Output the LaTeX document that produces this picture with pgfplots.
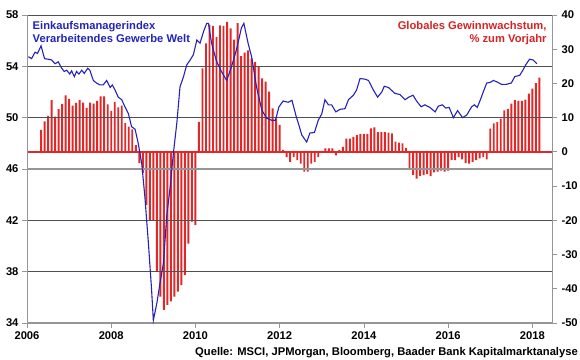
\documentclass[border=0pt]{standalone}
\usepackage{pgfplots}
\pgfplotsset{compat=1.18}
\usepackage{pgfplotstable}
\usepackage{fontspec}
\setmainfont{Liberation Sans}
\definecolor{pmiblue}{RGB}{35,35,185}
\definecolor{barred}{RGB}{225,40,40}
\definecolor{txtred}{RGB}{215,35,35}
\definecolor{gridc}{RGB}{80,80,80}
\definecolor{axc}{RGB}{150,150,150}

\pgfplotstableread{
m v
4 6.4
5 8.9
6 10.5
7 15.1
8 10.3
9 12.5
10 14.0
11 16.5
12 15.5
13 13.5
14 14.3
15 15.1
16 14.4
17 12.9
18 14.4
19 14.1
20 14.9
21 16.2
22 16.2
23 13.9
24 12.0
25 14.6
26 13.0
27 13.5
28 8.4
29 7.4
30 6.6
31 2.0
32 -3.3
33 -6.2
34 -15.5
35 -20.0
36 -20.0
37 -35.0
38 -42.3
39 -46.2
40 -44.7
41 -43.7
42 -42.3
43 -40.8
44 -38.9
45 -36.0
46 -26.8
47 -20.4
48 -21.4
49 8.8
50 24.4
51 31.7
52 37.2
53 36.8
54 33.6
55 37.0
56 36.8
57 38.0
58 36.1
59 32.8
60 37.6
61 28.0
62 29.0
63 29.7
64 27.3
65 26.3
66 24.9
67 21.5
68 20.5
69 17.6
70 12.7
71 9.8
72 7.9
73 0.6
74 -1.5
75 -2.9
76 -1.5
77 -2.4
78 -3.4
79 -5.8
80 -5.8
81 -3.4
82 -2.9
83 -1.5
84 0.3
85 1.0
86 1.0
87 1.0
88 -1.0
89 0.5
90 1.5
91 3.9
92 3.9
93 4.4
94 4.9
95 5.3
96 5.3
97 5.3
98 6.9
99 7.2
100 5.8
101 5.8
102 5.8
103 5.6
104 5.4
105 3.0
106 2.7
107 2.5
108 1.2
109 -5.3
110 -6.8
111 -7.8
112 -7.0
113 -6.8
114 -6.5
115 -7.1
116 -6.0
117 -5.8
118 -5.5
119 -5.8
120 -5.5
121 -2.4
122 -2.4
123 -1.5
124 -2.2
125 -3.3
126 -3.4
127 -2.9
128 -2.4
129 -1.9
130 -1.5
131 -2.2
132 6.8
133 8.3
134 8.7
135 9.7
136 12.1
137 12.6
138 14.1
139 15.1
140 14.9
141 14.9
142 15.3
143 17.0
144 18.5
145 20.1
146 21.7
}\gewinn

\pgfplotstableread{
m v
0.4 54.75
1.3 54.6
2.3 55.1
3.0 55.0
4.0 55.6
5.0 54.6
6.1 54.55
7.0 54.5
8.0 54.2
8.9 54.35
9.9 53.85
10.6 53.6
11.3 53.7
12.2 53.4
12.7 53.65
13.5 53.2
14.1 53.6
14.8 53.4
15.6 53.7
16.3 53.45
17.3 53.85
17.9 53.7
18.9 52.9
19.8 52.7
20.8 52.55
21.7 52.55
22.7 52.9
23.7 52.35
24.3 52.55
25.1 52.15
26.0 51.6
27.0 51.4
27.9 50.85
28.9 50.3
29.8 49.3
30.8 49.1
31.7 48.0
32.7 46.4
33.6 43.8
34.6 40.2
35.5 36.6
36.0 34.2
37.0 35.55
37.9 37.1
38.9 38.7
39.8 42.3
40.8 44.6
41.7 47.2
42.7 49.6
43.6 52.4
44.6 53.2
45.5 54.1
46.5 54.5
47.4 54.9
48.4 56.05
49.3 55.8
50.3 56.7
51.2 57.35
51.7 57.35
52.6 55.8
54.0 54.4
55.4 53.6
56.9 52.9
58.3 54.0
59.7 55.3
61.1 57.0
61.8 57.35
63.0 55.8
64.0 54.75
65.4 52.4
66.9 50.6
68.3 49.95
69.7 49.8
70.8 49.8
71.8 50.85
73.0 51.3
74.4 51.2
75.5 51.35
76.7 50.1
77.5 49.4
78.3 48.65
79.7 48.1
80.6 48.8
81.9 48.85
83.0 49.8
84.0 50.3
84.9 51.4
85.9 51.0
86.8 51.0
88.0 50.45
89.2 50.65
90.6 50.7
91.6 51.4
93.0 51.75
93.9 52.15
94.9 53.05
96.3 53.0
97.3 52.9
98.7 52.15
99.9 51.6
101.1 52.0
101.8 52.45
103.0 52.35
104.8 51.9
106.3 51.8
107.7 51.4
108.8 51.6
110.0 51.75
111.0 51.3
112.3 50.85
113.4 51.0
114.8 50.8
116.3 50.45
117.2 50.9
118.4 51.0
119.3 50.75
120.3 50.8
121.5 50.0
122.7 50.55
124.1 50.0
125.3 50.2
126.7 50.85
127.5 51.0
128.3 50.8
129.2 51.4
130.0 52.0
131.0 52.7
132.0 52.75
132.9 52.9
133.8 52.8
135.2 52.6
136.6 52.6
138.0 52.7
139.0 53.2
140.4 53.3
141.3 53.7
142.3 54.2
143.2 54.55
144.2 54.5
145.3 54.2
}\pmi

\begin{document}
\begin{tikzpicture}[font=\fontsize{11.2}{12.5}\selectfont\bfseries]
% right axis: earnings growth bars
\begin{axis}[name=bx, scale only axis, width=525pt, height=308pt,
  xmin=0, xmax=149.6, ymin=-50, ymax=40,
  axis x line=none, axis y line*=right,
  axis line style={axc, line width=1pt, -},
  ytick={-50,-40,...,40},
  yticklabels={-50,-40,-30,-20,-10,0,10,20,30,40},
  tick align=outside, major tick length=5pt,
  tick style={axc, line width=0.8pt},
  yticklabel style={font=\fontsize{11.2}{12.5}\selectfont\bfseries, xshift=1pt},
  clip=false]
\addplot[ybar, bar width=0.55, fill=barred, draw=none] table[x=m, y=v] {\gewinn};
\addplot[barred, line width=1.3pt, mark=none] coordinates {(0,0) (149.6,0)};
\end{axis}
% left axis: PMI
\begin{axis}[name=ax, scale only axis, width=525pt, height=308pt,
  xmin=0, xmax=149.6, ymin=34, ymax=58,
  axis x line*=bottom, axis y line*=left,
  axis line style={axc, line width=1pt, -},
  x axis line style={line width=1.8pt},
  xtick={0,24,48,72,96,120,144},
  xticklabels={2006,2008,2010,2012,2014,2016,2018},
  ytick={34,38,42,50,54,58},
  yticklabels={34,38,42,50,54,58},
  extra y ticks={46},
  extra y tick labels={46},
  extra y tick style={major grid style={axc, line width=1.6pt}},
  ymajorgrids,
  major grid style={gridc, line width=0.8pt},
  tick align=outside, major tick length=5pt,
  tick style={axc, line width=0.8pt},
  ticklabel style={font=\fontsize{11.2}{12.5}\selectfont\bfseries},
  clip=false]
\addplot[pmiblue, line width=1.1pt, mark=none] table[x=m, y=v] {\pmi};
\end{axis}
\node[anchor=north west, align=left, inner sep=0pt, text=pmiblue]
  at ([shift={(5.5pt,-6.5pt)}]ax.north west)
  {Einkaufsmanagerindex\\Verarbeitendes Gewerbe Welt};
\node[anchor=north east, align=right, inner sep=0pt, text=txtred]
  at ([shift={(-5.3pt,-6.5pt)}]ax.north east)
  {Globales Gewinnwachstum,\\\% zum Vorjahr};
\node[anchor=base east, inner sep=0pt]
  at ([shift={(26pt,-32.5pt)}]ax.south east)
  {Quelle: MSCI, JPMorgan, Bloomberg, Baader Bank Kapitalmarktanalyse};
\pgfresetboundingbox
\path ([shift={(-27pt,-36pt)}]ax.south west) rectangle ([shift={(28pt,15pt)}]ax.north east);
\end{tikzpicture}
\end{document}
